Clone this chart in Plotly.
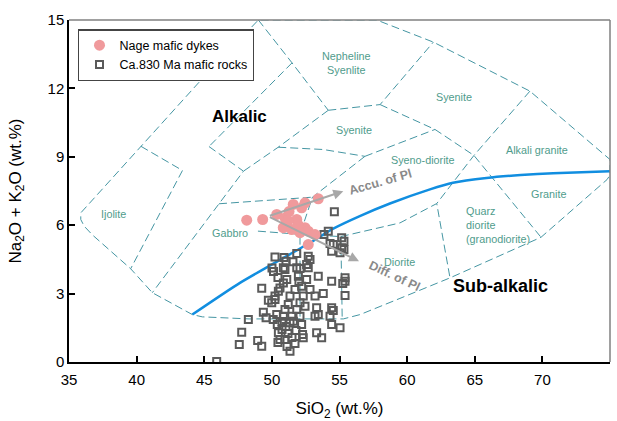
import plotly.graph_objects as go

# ---------------- data ----------------
dyke_sio2 = [48.14, 49.32, 50.36, 50.97, 50.84, 51.58, 52.20, 51.84, 52.45, 52.69,
             52.08, 53.19, 52.69, 53.43, 51.47, 52.45, 51.27, 51.93, 51.19]
dyke_alk = [6.22, 6.25, 6.47, 6.32, 5.89, 6.91, 6.76, 6.25, 5.89, 5.74,
            5.67, 5.59, 5.15, 7.16, 5.81, 6.98, 6.60, 6.03, 6.20]

rock_sio2 = [45.92, 47.59, 47.77, 48.26, 48.95, 49.25, 49.25, 49.37, 49.57, 49.74,
             50.23, 50.01, 50.12, 50.23, 50.36, 50.40, 50.48, 50.60, 50.45, 51.04,
             50.97, 51.10, 50.85, 50.60, 50.48, 50.23, 49.99, 50.85, 51.34, 51.21,
             51.34, 51.84, 51.84, 51.96, 52.20, 52.32, 52.08, 52.45, 52.69, 52.82,
             52.57, 52.08, 52.69, 53.43, 54.42, 55.41, 55.41, 55.24, 55.41, 53.80,
             53.19, 52.57, 53.31, 53.43, 53.19, 54.42, 54.54, 54.30, 54.42, 55.04,
             53.31, 53.68, 52.27, 52.20, 52.32, 51.47, 51.59, 51.34, 52.08, 50.85,
             50.10, 50.75, 51.04, 51.19, 50.97, 51.49, 51.78, 51.71, 51.12, 54.62,
             54.17, 53.85, 55.16, 55.33, 55.16, 55.33, 55.04, 54.54, 54.42, 54.30,
             50.90, 50.45, 51.56, 51.71, 52.82, 52.00, 51.84, 50.97, 50.75]
rock_alk = [0.02, 0.77, 1.31, 1.86, 0.94, 0.69, 3.23, 2.18, 1.94, 2.71,
            4.61, 4.12, 3.97, 2.74, 2.08, 1.64, 1.28, 0.99, 0.86, 4.42,
            4.06, 3.62, 3.47, 3.25, 3.10, 2.89, 2.60, 4.13, 2.89, 2.52,
            0.47, 4.76, 4.13, 3.76, 3.32, 2.89, 2.60, 2.45, 4.64, 4.50,
            4.28, 4.10, 4.13, 3.76, 3.54, 3.69, 3.54, 3.44, 2.92, 3.00,
            2.89, 3.62, 2.38, 2.08, 2.01, 2.38, 2.26, 2.01, 1.64, 1.50,
            1.28, 1.06, 1.21, 1.64, 1.06, 2.01, 1.79, 1.72, 2.01, 2.01,
            1.86, 1.43, 1.56, 1.25, 0.99, 1.07, 1.38, 0.81, 0.68, 6.59,
            5.74, 5.59, 5.45, 5.30, 5.01, 4.93, 4.79, 5.15, 4.86, 5.20,
            4.58, 3.71, 4.40, 3.18, 3.18, 3.53, 2.30, 2.30, 1.78]

# ---------------- field boundaries (SiO2, Na2O+K2O) ----------------
outer_x = [57.75, 49.0, 44.6, 40.32, 37.44, 35.87, 35.87, 36.12, 36.72, 39.56, 41.16,
           44.12, 44.86, 46.09, 48.31, 55.28, 56.52, 59.47, 63.17, 69.9, 74.78, 75.0,
           75.0, 69.08, 61.94, 57.75]
outer_y = [15.0, 15.0, 12.26, 9.46, 7.57, 6.54, 6.25, 5.96, 5.58, 4.09, 3.04,
           2.08, 1.98, 1.94, 1.89, 1.89, 2.08, 2.79, 3.69, 5.47, 8.0, 8.2,
           8.88, 11.88, 14.03, 15.0]
ijolite_x = [40.32, 43.39, 39.56]
ijolite_y = [9.46, 8.40, 4.09]
gab_left_x = [45.35, 47.90, 41.16]
gab_left_y = [9.45, 8.37, 3.04]
neph_left_x = [49.0, 51.49, 54.17]
neph_left_y = [15.0, 13.12, 11.04]
ca_x = [51.49, 45.35]
ca_y = [13.12, 9.45]
neph_bot_x = [54.17, 58.0, 61.94]
neph_bot_y = [11.04, 11.29, 14.03]
sy_right_x = [58.0, 62.06, 64.94, 69.9]
sy_right_y = [11.29, 10.2, 9.06, 5.47]
ag_left_x = [69.08, 64.94, 62.19]
ag_left_y = [11.88, 9.06, 6.95]
hb_x = [54.17, 50.47, 47.90]
hb_y = [11.04, 9.42, 8.37]
sy_bot_x = [50.47, 53.8, 56.88]
sy_bot_y = [9.42, 9.32, 9.02]
sd_top_x = [56.88, 62.06]
sd_top_y = [9.02, 10.2]
sd_left_x = [56.88, 53.0, 52.08, 52.08]
sd_left_y = [9.02, 7.23, 5.6, 1.89]
gab_top_x = [46.09, 53.0]
gab_top_y = [6.94, 7.23]
gab_bot_x = [48.97, 52.08, 55.1]
gab_bot_y = [5.74, 5.6, 5.5]
dio_left_x = [55.1, 55.2]
dio_left_y = [5.5, 1.89]
dio_top_x = [55.1, 59.47, 62.19, 63.17]
dio_top_y = [5.5, 6.1, 6.95, 3.69]

divide_x = [44.12, 47.64, 52.82, 54.54, 56.5, 58.73, 61.69, 63.39, 65.87, 68.4, 70.8, 75.0]
divide_y = [2.08, 3.47, 5.23, 5.85, 6.4, 6.95, 7.57, 7.86, 8.07, 8.2, 8.28, 8.37]

field_names = ["Nepheline<br>Syenlite", "Syenite", "Syenite", "Syeno-diorite",
               "Alkali granite", "Granite", "Diorite", "Gabbro", "Ijolite"]
field_x = [55.5, 63.5, 56.1, 61.2, 69.6, 70.45, 59.45, 46.9, 38.3]
field_y = [13.1, 11.63, 10.17, 8.84, 9.32, 7.35, 4.38, 5.67, 6.51]

# ---------------- figure ----------------
FONT = "Liberation Sans, Arial, sans-serif"
TEAL = "#4596a3"
LABEL = "#4f9c8c"
fig = go.Figure()

bounds = [(outer_x, outer_y), (ijolite_x, ijolite_y), (gab_left_x, gab_left_y),
          (neph_left_x, neph_left_y), (ca_x, ca_y), (neph_bot_x, neph_bot_y),
          (sy_right_x, sy_right_y), (ag_left_x, ag_left_y), (hb_x, hb_y),
          (sy_bot_x, sy_bot_y), (sd_top_x, sd_top_y), (sd_left_x, sd_left_y),
          (gab_top_x, gab_top_y), (gab_bot_x, gab_bot_y), (dio_left_x, dio_left_y),
          (dio_top_x, dio_top_y)]
for bx, by in bounds:
    fig.add_trace(go.Scatter(x=bx, y=by, mode="lines", showlegend=False, hoverinfo="skip",
                             line=dict(color=TEAL, width=1, dash="8px,4px")))

fig.add_trace(go.Scatter(x=divide_x, y=divide_y, mode="lines", showlegend=False,
                         hoverinfo="skip",
                         line=dict(color="#118ee0", width=2.5, shape="spline", smoothing=0.6)))

fig.add_trace(go.Scatter(x=rock_sio2, y=rock_alk, mode="markers", name="Ca.830 Ma mafic rocks",
                         legendgroup="b",
                         marker=dict(symbol="square-open", size=7, color="#5a5a5a",
                                     line=dict(width=2, color="#5a5a5a"))))
fig.add_trace(go.Scatter(x=dyke_sio2, y=dyke_alk, mode="markers", name="Nage mafic dykes",
                         legendgroup="a",
                         marker=dict(symbol="circle", size=11, color="#f09a9c")))

ann = []
for t, x, y in zip(field_names, field_x, field_y):
    ann.append(dict(x=x, y=y, text=t, showarrow=False, font=dict(size=10.8, color=LABEL, family=FONT)))
ann.append(dict(x=66.7, y=6.03, text="Quarz<br>diorite<br>(granodiorite)", showarrow=False, align="left",
                font=dict(size=10.8, color=LABEL, family=FONT)))
ann.append(dict(x=47.6, y=10.75, text="<b>Alkalic</b>", showarrow=False,
                font=dict(size=17, color="black", family=FONT)))
ann.append(dict(x=66.9, y=3.34, text="<b>Sub-alkalic</b>", showarrow=False,
                font=dict(size=18, color="black", family=FONT)))
# arrows
ann.append(dict(x=55.28, y=7.49, ax=49.74, ay=6.39, axref="x", ayref="y", xref="x", yref="y",
                text="", showarrow=True, arrowhead=2, arrowsize=1, arrowwidth=2, arrowcolor="#a8a8a8"))
ann.append(dict(x=56.44, y=4.42, ax=49.74, ay=6.39, axref="x", ayref="y", xref="x", yref="y",
                text="", showarrow=True, arrowhead=2, arrowsize=1, arrowwidth=2, arrowcolor="#a8a8a8"))
ann.append(dict(x=58.05, y=7.9, text="<b>Accu. of Pl</b>", showarrow=False, textangle=-16,
                font=dict(size=12.5, color="#8a8a8a", family=FONT)))
ann.append(dict(x=59.03, y=3.76, text="<b>Diff. of Pl</b>", showarrow=False, textangle=25,
                font=dict(size=12.5, color="#8a8a8a", family=FONT)))

fig.update_layout(
    width=617, height=421,
    margin=dict(l=69, r=7, t=20, b=59),
    paper_bgcolor="white", plot_bgcolor="white",
    font=dict(family=FONT, size=14, color="black"),
    annotations=ann,
    legend=dict(x=0.017, y=0.973, xanchor="left", yanchor="top", bgcolor="white",
                bordercolor="#444", borderwidth=1.3, font=dict(size=12.5, family=FONT),
                traceorder="reversed", tracegroupgap=10),
    shapes=[dict(type="line", xref="paper", yref="paper", x0=0, x1=1, y0=1, y1=1,
                 line=dict(color="#808080", width=1.5)),
            dict(type="line", xref="paper", yref="paper", x0=1, x1=1, y0=0, y1=1,
                 line=dict(color="#808080", width=1.5))],
)
fig.update_xaxes(range=[35, 75], dtick=5, tick0=35, ticks="inside", ticklen=6, tickwidth=1.5,
                 tickcolor="black", showline=True, linecolor="black", linewidth=1.5,
                 showgrid=False, zeroline=False, tickfont=dict(size=15), ticklabelstandoff=3,
                 automargin=False,
                 title=dict(text="SiO<sub>2</sub> (wt.%)", font=dict(size=17), standoff=18))
fig.update_yaxes(range=[0, 15], dtick=3, tick0=0, ticks="inside", ticklen=6, tickwidth=1.5,
                 tickcolor="black", showline=True, linecolor="black", linewidth=1.5,
                 showgrid=False, zeroline=False, tickfont=dict(size=15), automargin=False,
                 title=dict(text="Na<sub>2</sub>O + K<sub>2</sub>O (wt.%)", font=dict(size=17), standoff=22))

fig.write_html("out.html")
